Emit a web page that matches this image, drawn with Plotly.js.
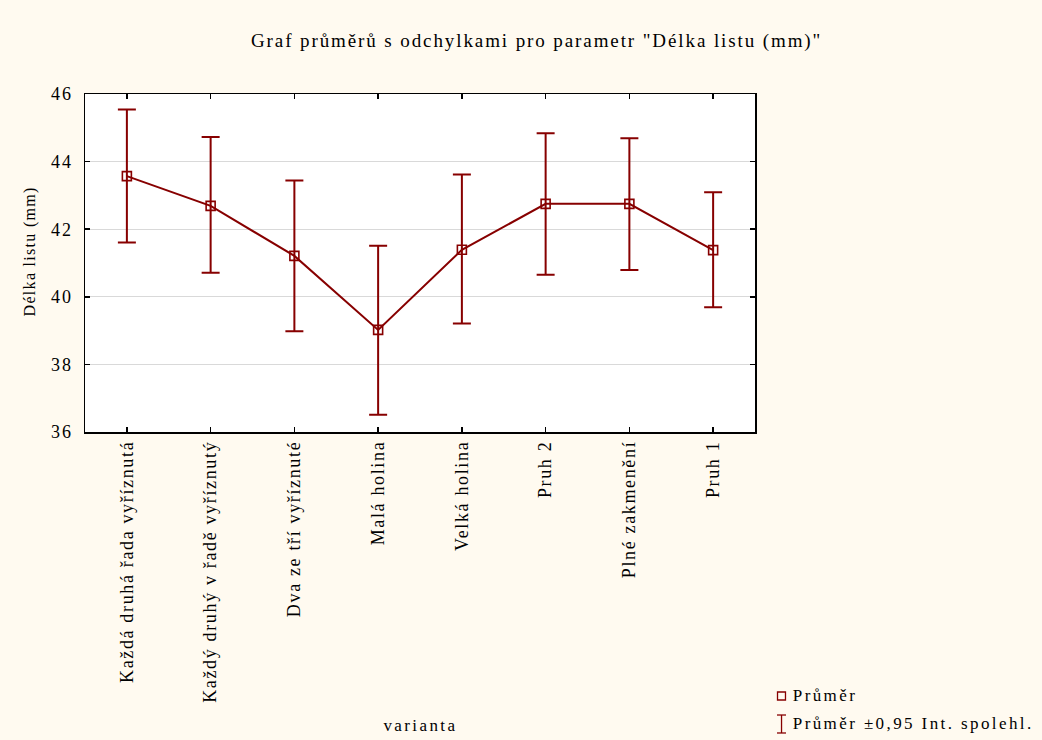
<!DOCTYPE html>
<html>
<head>
<meta charset="utf-8">
<script src="https://cdn.plot.ly/plotly-3.0.1.min.js"></script>
<style>
  html, body { margin: 0; padding: 0; background: #fffaf0; }
  #chart { width: 1042px; height: 740px; }
  /* wide, typewriter-like spacing of the labels */
  #chart .gtitle { letter-spacing: 1.9px; }
  #chart .xtick text { letter-spacing: 1.65px; }
  #chart .ytick text { letter-spacing: 2px; }
  #chart .annotation text { letter-spacing: 2.4px; }
  #chart .annotation[data-index="0"] text { letter-spacing: 1.3px; }
</style>
</head>
<body>
<div id="chart"></div>
<script>
// Variants (treatments)
const varianty = [
  "Každá druhá řada vyříznutá",
  "Každý druhý v řadě vyříznutý",
  "Dva ze tří vyříznuté",
  "Malá holina",
  "Velká holina",
  "Pruh 2",
  "Plné zakmenění",
  "Pruh 1"
];
// Mean leaf length (mm)
const prumer = [43.57, 42.69, 41.21, 39.02, 41.39, 42.75, 42.75, 41.38];
// 95 % confidence interval bounds
const horniMez = [45.54, 44.73, 43.44, 41.51, 43.62, 44.84, 44.69, 43.09];
const dolniMez = [41.61, 40.71, 38.98, 36.51, 39.21, 40.65, 40.79, 39.69];
const yTicks = [36, 38, 40, 42, 44, 46];

const barva = "#870000";
const font = "Liberation Serif, Times New Roman, serif";

const trace = {
  x: varianty,
  y: prumer,
  type: "scatter",
  mode: "lines+markers",
  name: "Průměr",
  line: { color: barva, width: 2 },
  marker: { symbol: "square-open", size: 9, color: barva, line: { width: 1.6, color: barva } },
  error_y: {
    type: "data",
    symmetric: false,
    array: horniMez.map((h, i) => h - prumer[i]),
    arrayminus: dolniMez.map((d, i) => prumer[i] - d),
    color: barva,
    thickness: 2,
    width: 9
  },
  showlegend: false,
  hoverinfo: "x+y"
};

const layout = {
  width: 1042,
  height: 740,
  paper_bgcolor: "#fffaf0",
  plot_bgcolor: "#ffffff",
  margin: { l: 85, r: 287, t: 94, b: 308 },
  font: { family: font, color: "#000000", size: 16 },
  title: {
    text: 'Graf průměrů s odchylkami pro parametr "Délka listu (mm)"',
    font: { family: font, size: 19, color: "#000" },
    x: 0.515, xanchor: "center",
    y: 0.945, yanchor: "middle"
  },
  xaxis: {
    type: "category",
    range: [-0.5, 7.5],
    tickangle: -90,
    ticks: "inside",
    ticklen: 5,
    tickwidth: 1.5,
    tickcolor: "#000",
    showline: true,
    linecolor: "#000",
    linewidth: 1.5,
    mirror: "ticks",
    showgrid: false,
    zeroline: false,
    tickfont: { family: font, size: 18 },
    automargin: false
  },
  yaxis: {
    range: [36, 46],
    tickvals: yTicks,
    ticks: "inside",
    ticklen: 5,
    tickwidth: 1.5,
    tickcolor: "#000",
    showline: true,
    linecolor: "#000",
    linewidth: 1.5,
    mirror: "ticks",
    showgrid: true,
    gridcolor: "#d9d9d9",
    gridwidth: 1,
    zeroline: false,
    ticklabelstandoff: 7,
    tickfont: { family: font, size: 18 },
    automargin: false
  },
  shapes: [
    // legend: mean marker
    { type: "rect", xref: "paper", yref: "paper",
      x0: 1.0336, x1: 1.0455, y0: -0.7929, y1: -0.7692,
      line: { color: barva, width: 1.3 }, fillcolor: "rgba(0,0,0,0)" },
    // legend: interval symbol
    { type: "line", xref: "paper", yref: "paper",
      x0: 1.0396, x1: 1.0396, y0: -0.8905, y1: -0.8373,
      line: { color: barva, width: 1.3 } },
    { type: "line", xref: "paper", yref: "paper",
      x0: 1.0328, x1: 1.0463, y0: -0.8373, y1: -0.8373,
      line: { color: barva, width: 1.3 } },
    { type: "line", xref: "paper", yref: "paper",
      x0: 1.0328, x1: 1.0463, y0: -0.8905, y1: -0.8905,
      line: { color: barva, width: 1.3 } }
  ],
  annotations: [
    // y-axis title
    { xref: "paper", yref: "paper", x: -0.0821, y: 0.5355, xanchor: "center", yanchor: "middle",
      textangle: -90, text: "Délka listu (mm)", showarrow: false,
      font: { family: font, size: 16, color: "#000" } },
    // x-axis title
    { xref: "paper", yref: "paper", x: 0.5, y: -0.867, xanchor: "center", yanchor: "middle",
      text: "varianta", showarrow: false, font: { family: font, size: 17, color: "#000" } },
    // legend texts
    { xref: "paper", yref: "paper", x: 1.1052, y: -0.781, xanchor: "center", yanchor: "middle",
      text: "Průměr", showarrow: false, font: { family: font, size: 17, color: "#000" } },
    { xref: "paper", yref: "paper", x: 1.2358, y: -0.861, xanchor: "center", yanchor: "middle",
      text: "Průměr ±0,95 Int. spolehl.", showarrow: false, font: { family: font, size: 17, color: "#000" } }
  ]
};

Plotly.newPlot("chart", [trace], layout, { displayModeBar: false, staticPlot: true });
</script>
</body>
</html>
